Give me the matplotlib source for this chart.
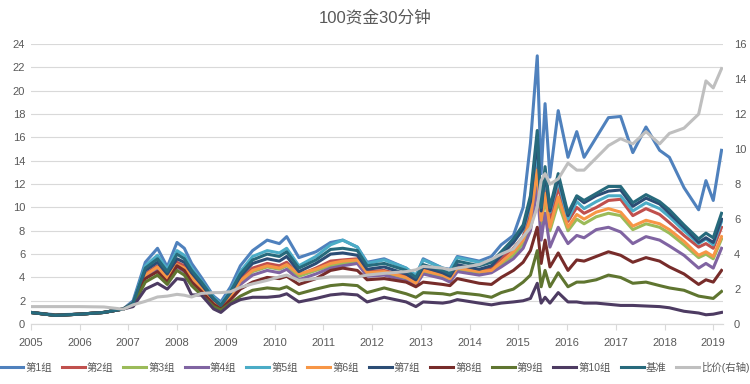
import matplotlib
matplotlib.use("Agg")
import matplotlib.pyplot as plt
import numpy as np

plt.rcParams['font.family'] = ['Liberation Sans', 'Noto Sans CJK SC', 'DejaVu Sans']

# dates as fractional years
dates = [2005.0, 2005.5, 2006.0, 2006.5, 2006.9, 2007.1, 2007.35, 2007.6, 2007.8, 2008.0,
         2008.15, 2008.3, 2008.5, 2008.75, 2008.9, 2009.1, 2009.3, 2009.55, 2009.85, 2010.1,
         2010.25, 2010.5, 2010.85, 2011.15, 2011.4, 2011.7, 2011.9, 2012.25, 2012.7, 2012.9,
         2013.05, 2013.45, 2013.6, 2013.75, 2014.2, 2014.45, 2014.65, 2014.9, 2015.1, 2015.25,
         2015.39, 2015.47, 2015.55, 2015.65, 2015.82, 2016.02, 2016.2, 2016.35, 2016.6, 2016.85,
         2017.1, 2017.35, 2017.62, 2017.9, 2018.1, 2018.4, 2018.7, 2018.85, 2019.0, 2019.17]

g1 = [1.0, 0.8, 0.85, 1.0, 1.3, 2.0, 5.3, 6.5, 4.9, 7.0,
      6.5, 5.2, 4.0, 2.4, 1.9, 3.2, 5.0, 6.3, 7.2, 6.9,
      7.5, 5.7, 6.2, 7.0, 7.2, 6.6, 5.3, 5.6, 4.8, 4.1,
      5.6, 4.8, 4.7, 5.8, 5.4, 5.8, 6.8, 7.6, 10.0, 15.5,
      23.0, 12.9, 18.9, 12.6, 18.3, 14.3, 16.5, 14.3, 16.0, 17.7,
      17.8, 14.7, 16.9, 14.9, 14.3, 11.7, 9.8, 12.3, 10.6, 14.9]
g2 = [1.0, 0.75, 0.85, 1.0, 1.3, 1.8, 4.3, 5.0, 4.0, 5.3,
      5.0, 4.2, 3.2, 2.0, 1.5, 2.5, 3.8, 4.8, 5.2, 5.0,
      5.3, 4.2, 4.8, 5.4, 5.5, 5.6, 4.5, 4.6, 4.1, 3.6,
      4.7, 4.3, 4.0, 4.9, 4.6, 4.8, 5.6, 6.5, 7.5, 9.5,
      14.0, 9.0, 12.0, 9.0, 11.7, 8.8, 10.0, 9.5, 10.0, 10.6,
      10.7, 9.3, 9.9, 9.4, 8.7, 7.6, 6.6, 6.9, 6.5, 8.3]
g3 = [1.0, 0.75, 0.85, 1.0, 1.3, 1.8, 4.2, 4.8, 3.9, 5.0,
      4.7, 3.9, 3.0, 1.9, 1.5, 2.4, 3.6, 4.5, 4.9, 4.7,
      5.0, 4.1, 4.6, 5.0, 5.2, 5.3, 4.3, 4.4, 3.9, 3.4,
      4.5, 4.1, 3.8, 4.7, 4.4, 4.5, 5.1, 5.9, 6.9, 8.6,
      12.8, 8.5, 10.8, 8.0, 10.4, 8.0, 9.0, 8.6, 9.2, 9.5,
      9.3, 8.1, 8.6, 8.3, 7.8, 6.8, 5.7, 6.0, 5.6, 7.3]
g4 = [1.0, 0.75, 0.85, 1.0, 1.3, 1.7, 4.0, 4.6, 3.7, 4.9,
      4.5, 3.7, 2.9, 1.8, 1.4, 2.3, 3.4, 4.2, 4.6, 4.4,
      4.7, 3.8, 4.3, 4.8, 5.0, 5.2, 4.1, 4.2, 3.7, 3.3,
      4.3, 3.9, 3.6, 4.5, 4.2, 4.4, 4.9, 5.6, 6.5, 8.0,
      11.7, 7.2, 9.5, 6.6, 8.3, 6.9, 7.6, 7.4, 8.1, 8.3,
      7.9, 6.9, 7.5, 7.2, 6.7, 5.9, 4.8, 5.2, 4.8, 6.5]
g5 = [1.0, 0.75, 0.85, 1.0, 1.3, 1.8, 5.0, 5.9, 4.7, 6.3,
      5.9, 4.8, 3.7, 2.3, 1.7, 2.9, 4.5, 5.8, 6.3, 6.1,
      6.5, 5.0, 5.8, 6.8, 7.2, 6.6, 5.2, 5.5, 4.8, 4.2,
      5.5, 4.8, 4.6, 5.7, 5.3, 5.4, 6.1, 7.0, 8.1, 10.3,
      15.0, 9.5, 12.8, 9.6, 12.3, 9.0, 10.5, 9.9, 10.5, 11.0,
      11.0, 9.7, 10.4, 9.9, 9.2, 8.0, 6.9, 7.3, 6.8, 8.8]
g6 = [1.0, 0.75, 0.85, 1.0, 1.3, 1.8, 4.2, 4.9, 3.9, 5.1,
      4.8, 4.0, 3.1, 1.9, 1.5, 2.4, 3.7, 4.6, 5.0, 4.8,
      5.1, 4.3, 4.7, 5.2, 5.4, 5.5, 4.4, 4.5, 4.0, 3.5,
      4.6, 4.2, 3.9, 4.8, 4.5, 4.6, 5.3, 6.2, 7.2, 9.0,
      13.2, 8.9, 11.2, 8.3, 10.9, 8.3, 9.4, 9.0, 9.6, 9.9,
      9.6, 8.4, 8.9, 8.6, 8.1, 7.1, 5.9, 6.2, 5.8, 7.5]
g7 = [1.0, 0.75, 0.85, 1.0, 1.3, 1.8, 4.6, 5.3, 4.3, 5.6,
      5.3, 4.4, 3.4, 2.1, 1.6, 2.7, 4.1, 5.2, 5.6, 5.4,
      5.8, 4.5, 5.2, 6.0, 6.1, 5.9, 4.7, 4.9, 4.3, 3.8,
      4.9, 4.4, 4.1, 5.1, 4.7, 5.0, 5.9, 7.0, 8.2, 10.5,
      15.8, 9.7, 13.0, 9.7, 12.6, 9.3, 10.9, 10.4, 11.0, 11.4,
      11.5, 10.1, 10.8, 10.3, 9.5, 8.3, 7.0, 7.4, 7.0, 9.0]
g8 = [1.0, 0.75, 0.85, 1.0, 1.3, 1.7, 3.9, 4.5, 3.6, 5.0,
      4.6, 3.6, 2.8, 1.7, 1.3, 2.1, 3.0, 3.6, 4.0, 3.9,
      4.1, 3.4, 3.9, 4.6, 4.8, 4.6, 3.8, 3.9, 3.6, 3.2,
      3.6, 3.4, 3.3, 3.9, 3.5, 3.4, 4.0, 4.6, 5.3, 6.3,
      8.3, 5.2, 7.2, 4.9, 6.1, 4.6, 5.5, 5.4, 5.8, 6.2,
      5.9, 5.3, 5.7, 5.4, 4.9, 4.3, 3.4, 3.8, 3.6, 4.6]
g9 = [1.0, 0.75, 0.85, 1.0, 1.3, 1.6, 3.6, 4.2, 3.4, 4.6,
      4.2, 3.3, 2.5, 1.5, 1.2, 1.8, 2.4, 2.9, 3.1, 3.0,
      3.2, 2.6, 3.0, 3.3, 3.4, 3.3, 2.7, 3.1, 2.6, 2.3,
      2.7, 2.6, 2.5, 2.7, 2.5, 2.3, 2.7, 3.0, 3.6, 4.2,
      6.3, 3.2, 4.6, 3.2, 4.4, 3.2, 3.6, 3.6, 3.8, 4.2,
      4.0, 3.5, 3.6, 3.3, 3.1, 2.9, 2.4, 2.3, 2.2, 2.8]
g10 = [1.0, 0.75, 0.85, 1.0, 1.3, 1.5, 3.0, 3.5, 3.0, 3.9,
       3.8, 2.5, 2.5, 1.3, 1.0, 1.7, 2.1, 2.3, 2.3, 2.4,
       2.6, 1.9, 2.2, 2.5, 2.6, 2.5, 1.9, 2.3, 1.9, 1.5,
       1.9, 1.8, 1.9, 2.1, 1.8, 1.65, 1.8, 1.9, 2.0, 2.2,
       3.5, 1.8, 2.3, 1.8, 2.7, 1.9, 1.9, 1.8, 1.8, 1.7,
       1.6, 1.6, 1.55, 1.5, 1.4, 1.1, 0.95, 0.8, 0.85, 1.0]
base = [1.0, 0.75, 0.85, 1.0, 1.3, 1.8, 4.8, 5.6, 4.5, 6.0,
        5.6, 4.6, 3.6, 2.2, 1.6, 2.8, 4.3, 5.5, 6.0, 5.8,
        6.2, 4.8, 5.5, 6.4, 6.5, 6.3, 5.0, 5.2, 4.6, 4.0,
        5.1, 4.6, 4.3, 5.4, 5.0, 5.3, 6.2, 7.3, 8.5, 11.0,
        16.6, 10.0, 13.5, 10.0, 12.9, 9.5, 11.0, 10.6, 11.2, 11.8,
        11.8, 10.4, 11.1, 10.5, 9.8, 8.5, 7.3, 7.8, 7.4, 9.5]
ratio = [1.0, 1.0, 1.0, 0.98, 0.85, 1.1, 1.3, 1.55, 1.6, 1.7,
         1.65, 1.55, 1.75, 1.8, 1.8, 1.85, 2.1, 2.3, 2.5, 2.7,
         2.8, 2.5, 2.6, 2.7, 2.7, 2.7, 2.8, 2.9, 3.0, 3.1,
         3.3, 3.2, 3.1, 3.2, 3.4, 3.7, 4.0, 4.3, 5.0, 5.5,
         6.7, 8.2, 8.6, 8.0, 8.3, 9.2, 8.8, 8.8, 9.5, 10.2,
         10.6, 10.3, 11.0, 10.3, 10.9, 11.2, 12.0, 13.9, 13.5, 14.6]

names = ['第1组', '第2组', '第3组', '第4组', '第5组', '第6组', '第7组', '第8组', '第9组', '第10组', '基准']
series = [g1, g2, g3, g4, g5, g6, g7, g8, g9, g10, base]
colors = ['#4F81BD', '#C0504D', '#9BBB59', '#8064A2', '#4BACC6', '#F79646',
          '#2C4D75', '#772C2A', '#5F7530', '#4D3B62', '#276A7C']
years = list(range(2005, 2020))

fig = plt.figure(figsize=(7.5, 3.84), dpi=100)
ax = fig.add_axes([0.041, 0.156, 0.923, 0.729])
ax2 = ax.twinx()

lines = []
for name, s, c in zip(names, series, colors):
    ln, = ax.plot(dates, s, color=c, lw=2.2, label=name, solid_joinstyle='round')
    lines.append(ln)
ln, = ax2.plot(dates, ratio, color='#BFBFBF', lw=2.2, label='比价(右轴)')
lines.append(ln)

ax.set_xlim(2005, 2019.2)
ax.set_ylim(0, 24)
ax.set_yticks(range(0, 25, 2))
ax2.set_ylim(0, 16)
ax2.set_yticks(range(0, 17, 2))
ax.set_xticks(years)
ax.set_xticklabels([str(y) for y in years])

ax.grid(axis='y', color='#D9D9D9', lw=0.8)
ax.set_axisbelow(True)
for a in (ax, ax2):
    for sp in ('top', 'left', 'right'):
        a.spines[sp].set_visible(False)
    a.spines['bottom'].set_color('#D9D9D9')
    a.tick_params(colors='#595959', labelsize=8)
ax.tick_params(axis='y', length=0, pad=4)
ax2.tick_params(axis='y', length=0, pad=8)
ax.tick_params(axis='x', length=4, color='#D9D9D9', pad=6)

fig.suptitle('100资金30分钟', x=0.5, y=0.975, fontsize=12, color='#595959')

fig.legend(handles=lines, loc='lower center', bbox_to_anchor=(0.5, 0.005), ncol=12,
           frameon=False, fontsize=7.5, handlelength=2.2, handletextpad=0.2,
           columnspacing=0.95, labelcolor='#595959')

fig.savefig('out.png', dpi=100)
